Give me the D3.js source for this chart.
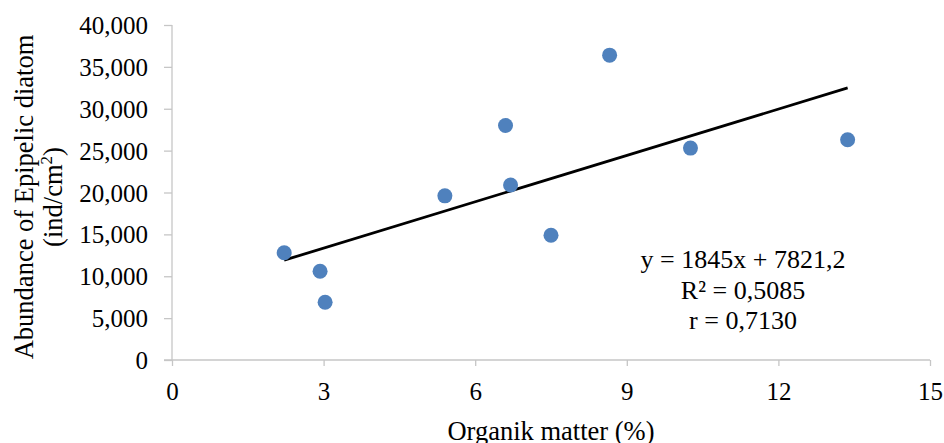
<!DOCTYPE html>
<html>
<head>
<meta charset="utf-8">
<script src="https://cdn.jsdelivr.net/npm/d3@7"></script>
<style>
  body { margin: 0; background: #fff; }
  text { font-family: "Liberation Serif", "Times New Roman", serif; fill: #000; }
</style>
</head>
<body>
<div id="wrapper"></div>
<script>
// organic matter (%) and abundance (ind/cm2) per station
const organicMatter = [2.22, 2.93, 3.03, 5.40, 6.60, 6.70, 7.50, 8.66, 10.26, 13.37]
const abundance = [12800, 10600, 6900, 19600, 28000, 20900, 14900, 36400, 25300, 26300]
const xTicks = [0, 3, 6, 9, 12, 15]
const yTicks = [0, 5000, 10000, 15000, 20000, 25000, 30000, 35000, 40000]
const trendSlope = 1845
const trendIntercept = 7821.2
const equationLines = ["y = 1845x + 7821,2", "R² = 0,5085", "r = 0,7130"]

function drawChart() {
  const dataset = organicMatter.map((x, i) => ({ x, y: abundance[i] }))
  const xAccessor = d => d.x
  const yAccessor = d => d.y

  let dimensions = {
    width: 944,
    height: 443,
    margin: { top: 25, right: 14, bottom: 83, left: 172 },
  }
  dimensions.boundedWidth = dimensions.width - dimensions.margin.left - dimensions.margin.right
  dimensions.boundedHeight = dimensions.height - dimensions.margin.top - dimensions.margin.bottom

  const wrapper = d3.select("#wrapper")
    .append("svg")
      .attr("width", dimensions.width)
      .attr("height", dimensions.height)

  const bounds = wrapper.append("g")
    .attr("transform", `translate(${dimensions.margin.left}, ${dimensions.margin.top})`)

  // scales
  const xScale = d3.scaleLinear()
    .domain([0, 15])
    .range([0, dimensions.boundedWidth])

  const yScale = d3.scaleLinear()
    .domain([0, 40000])
    .range([dimensions.boundedHeight, 0])

  // axes
  const axisColor = "#c6c6c6"
  const yAxisGenerator = d3.axisLeft(yScale)
    .tickValues(yTicks)
    .tickSize(8)
    .tickPadding(16)
    .tickFormat(d3.format(",.0f"))
  const yAxis = bounds.append("g").call(yAxisGenerator)

  const xAxisGenerator = d3.axisBottom(xScale)
    .tickValues(xTicks)
    .tickSize(6)
    .tickPadding(16)
  const xAxis = bounds.append("g")
    .attr("transform", `translate(0, ${dimensions.boundedHeight})`)
    .call(xAxisGenerator)

  ;[xAxis, yAxis].forEach(axis => {
    axis.attr("font-size", null).attr("font-family", null)
    axis.select(".domain").attr("stroke", axisColor).attr("stroke-width", 1.3)
    axis.selectAll(".tick line").attr("stroke", axisColor).attr("stroke-width", 1.3)
    axis.selectAll(".tick text")
      .style("font-family", '"Liberation Serif", serif')
      .style("font-size", "25px")
      .attr("fill", "#000")
  })
  yAxis.select(".domain").attr("d", `M0,${dimensions.boundedHeight}V0`)
  xAxis.select(".domain").attr("d", `M-8,0H${dimensions.boundedWidth}`)
  yAxis.selectAll(".tick text").attr("dy", "0.34em")

  // trend line
  const xExtent = d3.extent(dataset, xAccessor)
  const trend = xExtent.map(x => ({ x, y: trendSlope * x + trendIntercept }))
  bounds.append("path")
    .datum(trend)
    .attr("fill", "none")
    .attr("stroke", "#000")
    .attr("stroke-width", 2.8)
    .attr("d", d3.line().x(d => xScale(d.x)).y(d => yScale(d.y)))

  // points
  bounds.selectAll(".dot")
    .data(dataset)
    .enter().append("circle")
      .attr("class", "dot")
      .attr("cx", d => xScale(xAccessor(d)))
      .attr("cy", d => yScale(yAccessor(d)))
      .attr("r", 7.5)
      .attr("fill", "#4f81bd")

  // equation label
  bounds.append("text")
    .attr("text-anchor", "middle")
    .style("font-size", "26px")
    .selectAll("tspan")
    .data(equationLines)
    .enter().append("tspan")
      .attr("x", xScale(11.3))
      .attr("y", (d, i) => 243 + i * 30.5)
      .text(d => d)

  // axis labels
  wrapper.append("text")
    .attr("x", dimensions.margin.left + dimensions.boundedWidth / 2)
    .attr("y", 440)
    .attr("text-anchor", "middle")
    .style("font-size", "26.5px")
    .text("Organik matter (%)")

  const yLabel = wrapper.append("text")
    .attr("transform", `translate(33, 197) rotate(-90)`)
    .attr("text-anchor", "middle")
    .style("font-size", "26.5px")
  yLabel.append("tspan")
    .attr("x", 0)
    .attr("y", 0)
    .text("Abundance of Epipelic diatom")
  const unitLine = yLabel.append("tspan")
    .attr("x", 0)
    .attr("y", 29)
  unitLine.append("tspan").text("(ind/cm")
  unitLine.append("tspan").attr("dy", -10).style("font-size", "17px").text("2")
  unitLine.append("tspan").attr("dy", 10).text(")")
}
drawChart()
</script>
</body>
</html>
